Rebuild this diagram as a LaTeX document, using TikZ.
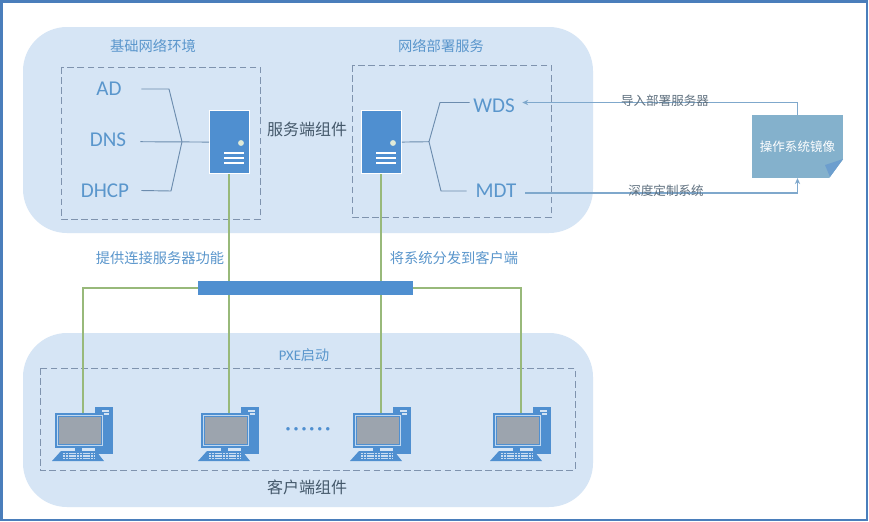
\documentclass[tikz,border=0pt]{standalone}
\usepackage{fontspec}
\setmainfont{Carlito}
\newfontfamily\cjk{Noto Sans CJK SC}
\usetikzlibrary{arrows.meta,positioning,shapes.geometric}
\definecolor{framebleu}{HTML}{4A7EBB}
\definecolor{panelbleu}{HTML}{D6E5F5}
\definecolor{boxbleu}{HTML}{4F8FD0}
\definecolor{titlebleu}{HTML}{5A96CC}
\definecolor{dashgris}{HTML}{7F93AE}
\definecolor{linegris}{HTML}{6C8CAE}
\definecolor{arrowbleu}{HTML}{7FA8CC}
\definecolor{imagebleu}{HTML}{84B1CC}
\definecolor{wirevert}{HTML}{98B97A}
\definecolor{screengris}{HTML}{9CA4AE}
\definecolor{darktext}{HTML}{44586A}
\newcommand{\dotgap}{\kern2.2pt}
\tikzset{
	panelzone/.style={fill=panelbleu,rounded corners=33pt},
	dashzone/.style={draw=dashgris,dash pattern=on 5pt off 2.6pt,line width=0.6pt},
	svclabel/.style={font=\fontsize{15.8}{16}\selectfont,text=titlebleu,inner sep=0pt,text height=10.2pt,text depth=0pt},
	zonelabel/.style={font=\cjk\fontsize{10.7}{12}\selectfont,text=titlebleu,inner sep=0pt},
	biglabel/.style={font=\cjk\fontsize{12}{14}\selectfont,text=darktext,inner sep=0pt},
	flowlabel/.style={font=\cjk\fontsize{9.4}{11}\selectfont,text=darktext!85,inner sep=0pt},
	branch/.style={draw=linegris,line width=0.7pt},
	wire/.style={draw=wirevert,line width=1pt},
	flow/.style={draw=arrowbleu,line width=1pt,-{Stealth[length=4.5pt,width=4pt]}},
	pics/serverpic/.style={code={
		\node[fill=boxbleu,draw=white,line width=0.6pt,minimum width=30pt,minimum height=47.5pt,inner sep=0pt,anchor=north west] (-box) at (0,0) {};
		\fill[white!70!wirevert] (32,33) circle (2.2pt);
		\foreach \y in {43,48,53}
		\draw[white,line width=0.8pt] (15,\y)--(35,\y);
	}},
	pics/clientpic/.style={code={
		\fill[boxbleu] (40,-6) rectangle (58,41);
		\draw[white!75!boxbleu,line width=0.8pt] (47,-2)--(54,-2) (47,1)--(54,1);
		\fill[boxbleu] (20,32) rectangle (27,38);
		\fill[boxbleu] (-3,48) -- (6,38) -- (41,38) -- (49,48) -- cycle;
		\foreach \y in {40.5,43,45.5}
		\draw[white!70!boxbleu,line width=0.9pt,dash pattern=on 1.6pt off 0.5pt] (8,\y)--(39,\y);
		\node[fill=screengris,draw=boxbleu,line width=1pt,double=white!65!boxbleu,double distance=0.8pt,minimum width=34pt,minimum height=23pt,inner sep=0pt,anchor=north west] (-screen) at (1.5,1.5) {};
		\coordinate (-up) at (28,0);
	}},
}
\begin{document}
\begin{tikzpicture}[x=0.75pt,y=-0.75pt]
	
	\useasboundingbox (0,0) rectangle (869,522);
	\fill[white] (0,0) rectangle (869,522);
	\draw[framebleu,line width=2.2pt] (1.5,1.5) rectangle (867,520);
	
	\fill[panelzone] (23,27) rectangle (593,233);
	\fill[panelzone] (23,333) rectangle (593,507);
	
	\draw[dashzone] (61,67) rectangle (260,219);
	\draw[dashzone] (352,65) rectangle (551,217);
	\draw[dashzone] (40,368) rectangle (575,470);
	
	\node[zonelabel] (basezone) at (153,46) {基础网络环境};
	\node[zonelabel] (deployzone) at (441,46) {网络部署服务};
	\node[biglabel] (serverside) at (307,129) {服务端组件};
	\node[zonelabel] (linktext) at (160,258) {提供连接服务器功能};
	\node[zonelabel] (pushtext) at (454,258) {将系统分发到客户端};
	\node[zonelabel,font=\fontsize{11}{12}\selectfont] (pxetext) at (304,355) {PXE{\cjk\fontsize{10.6}{12}\selectfont 启动}};
	\node[biglabel] (clientside) at (307,487) {客户端组件};
	
	% servers and the switch
	\node[fill=boxbleu,minimum width=161pt,minimum height=10.5pt,inner sep=0pt] (switch) at (305.5,288) {};
	\foreach \n/\x in {1/55,2/201,3/353,4/493}
	\pic (pc\n) at (\x,413) {clientpic};
	
	\pic (server1) at (209,110) {serverpic};
	\pic (server2) at (361,110) {serverpic};
	
	\draw[wire] (pc2-up |- server1-box.south) -- (pc2-up |- switch.north);
	\draw[wire] (pc3-up |- server2-box.south) -- (pc3-up |- switch.north);
	\draw[wire] (switch.west) -| (pc1-up);
	\draw[wire] (switch.east) -| (pc4-up);
	\draw[wire] (pc2-up |- switch.south) -- (pc2-up);
	\draw[wire] (pc3-up |- switch.south) -- (pc3-up);
	
	\node[font=\bfseries\fontsize{14}{14}\selectfont,text=boxbleu,inner sep=0pt] (pcdots) at (308,431) {·\dotgap·\dotgap·\dotgap·\dotgap·\dotgap·};
	
	% services
	\node[svclabel,minimum width=48pt] (ad) at (109,89) {AD};
	\node[svclabel,minimum width=48pt,text depth=3pt] (dns) at (108,141.7) {DNS};
	\node[svclabel,minimum width=54pt] (dhcp) at (105,190.5) {DHCP};
	\node[svclabel,minimum width=36pt,text height=14.7pt] (wds) at (494,102.5) {WDS};
	\node[svclabel,minimum width=43.5pt] (mdt) at (496,191) {MDT};
	
	\coordinate (forka) at (182,141.7);
	\coordinate (forkb) at (429,141.7);
	\draw[branch] (ad.east) -- (169,89) -- (forka);
	\draw[branch] (dhcp.east) -- (171,191) -- (forka);
	\draw[branch] (dns.east) -- (server1-box.west);
	\draw[branch] (server2-box.east) -- (forkb) -- (440,102.5) -- (wds.west);
	\draw[branch] (forkb) -- (441,191) -- (mdt.west);
	
	% system image
	\node[fill=imagebleu,minimum width=68.5pt,minimum height=47pt,inner sep=0pt,font=\cjk\fontsize{9.4}{11}\selectfont,text=white] (image) at (797.5,146.5) {操作系统镜像};
	\fill[white] (843.5,159) -- (829,178.5) -- (844,178.5) -- cycle;
	\fill[arrowbleu!60!boxbleu] (825,165) -- (843,159) -- (830,177) -- cycle;
	
	\draw[flow] (image.north) |- ([xshift=3pt]wds.east);
	\draw[flow] ([yshift=-1.5pt]mdt.east) -| (image.south);
	
	\node[flowlabel] (importtext) at (665,101) {导入部署服务器};
	\node[flowlabel] (customtext) at (666,191) {深度定制系统};
	
\end{tikzpicture}
\end{document}
